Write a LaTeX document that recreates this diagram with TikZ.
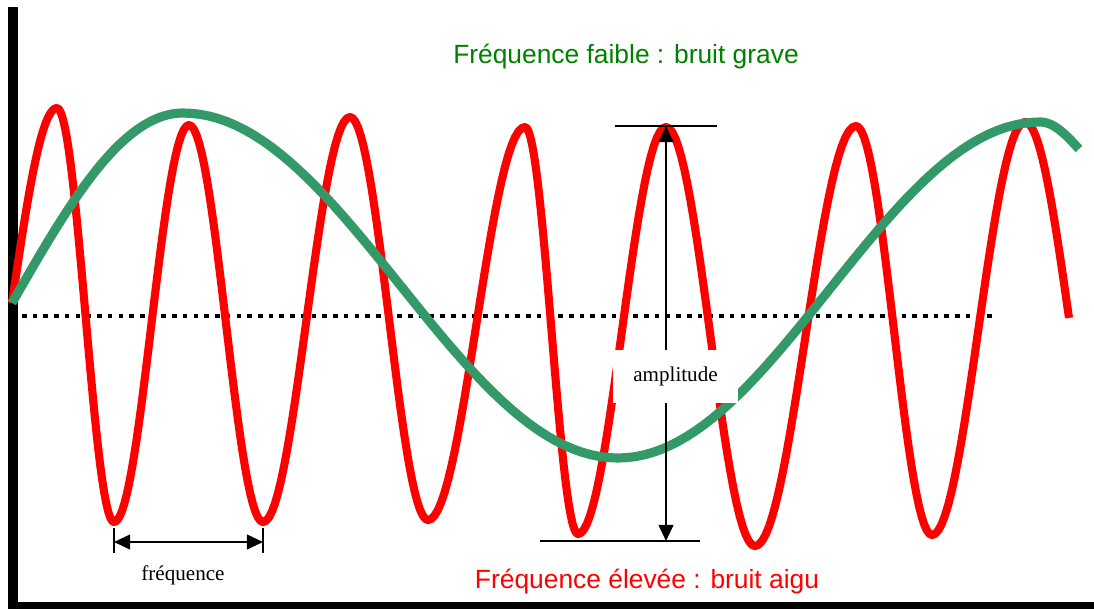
\documentclass[tikz,border=0pt]{standalone}
\usepackage{fontspec}
\setmainfont{Liberation Serif}
\newfontfamily\arialfont{Liberation Sans}
\usepackage{tikz}
\usetikzlibrary{positioning,arrows.meta}
\definecolor{sinered}{RGB}{255,0,0}
\definecolor{sinegreen}{RGB}{52,153,104}
\definecolor{labelgreen}{RGB}{0,128,0}

\tikzset{
  wave/.style={line width=2.3pt, line join=round},
  guide/.style={line width=0.6pt},
  dimarrow/.style={guide, {Triangle[length=4.6pt,width=4.2pt]}-{Triangle[length=4.6pt,width=4.2pt]}},
  bigtext/.style={font=\arialfont\fontsize{7.5}{9}\selectfont, anchor=base},
  smalltext/.style={font=\fontsize{6}{7}\selectfont},
}

\begin{document}
\begin{tikzpicture}[x=0.01cm,y=-0.01cm]
\useasboundingbox (0,0) rectangle (1094,608);

% axes
\draw[line width=2.8pt] (13,7) -- (13,605);
\draw[line width=2pt] (8,605) -- (1094,605);

% zero line
\draw[line width=1.3pt, dash pattern=on 1.3pt off 1.75pt] (22,316) -- (995,316);

% high frequency
\draw[wave, sinered, domain=0:1, samples=30] plot ({12+45*\x},{303-195*sin(90*\x)})
  \foreach \xa/\ya/\xb/\yb in {57/108/114/522, 114/522/189/125, 189/125/263/522, 263/522/350/117,
    350/117/428/520, 428/520/525/127, 525/127/578/534, 578/534/666/127, 666/127/755/546,
    755/546/856/126, 856/126/932/535, 932/535/1025/122}
    { -- plot ({\xa+(\xb-\xa)*\x},{\ya+(\yb-\ya)*(1-cos(180*\x))/2}) }
  -- plot ({1025+44*\x},{122+196*(1-cos(90*\x))});

% low frequency
\draw[wave, sinegreen, line width=2.6pt, domain=0:1, samples=50] plot ({12+171*\x},{303-190*sin(90*\x)})
  -- plot ({183+435*\x},{113+345*(1-cos(180*\x))/2})
  -- plot ({618+422*\x},{458-336*(1-cos(180*\x))/2})
  -- plot ({1040+39*\x},{122+27*(1-cos(90*\x))});

\node[bigtext, text=labelgreen] (lowlabel) at (626,63) {Fréquence faible : bruit grave};
\node[bigtext, text=sinered] (highlabel) at (647,588) {Fréquence élevée : bruit aigu};

% frequence
\coordinate (fa) at (114,542);
\coordinate (fb) at (263,542);
\draw[guide] (114,528) -- (114,553);
\draw[guide] (263,528) -- (263,553);
\draw[dimarrow] (fa) -- (fb);
\node[smalltext, anchor=base] (freqlabel) at (183,580) {fréquence};

% amplitude
\coordinate (amptop) at (666,126);
\coordinate (ampbot) at (666,541);
\draw[guide] (615,126) -- (717,126);
\draw[guide] (540,541) -- (700,541);
\draw[dimarrow] (amptop) -- (ampbot);
\node[smalltext, fill=white, inner sep=0pt, minimum width=1.25cm, minimum height=0.53cm] (amplabel) at (675.5,376.5) {amplitude};

\end{tikzpicture}
\end{document}
